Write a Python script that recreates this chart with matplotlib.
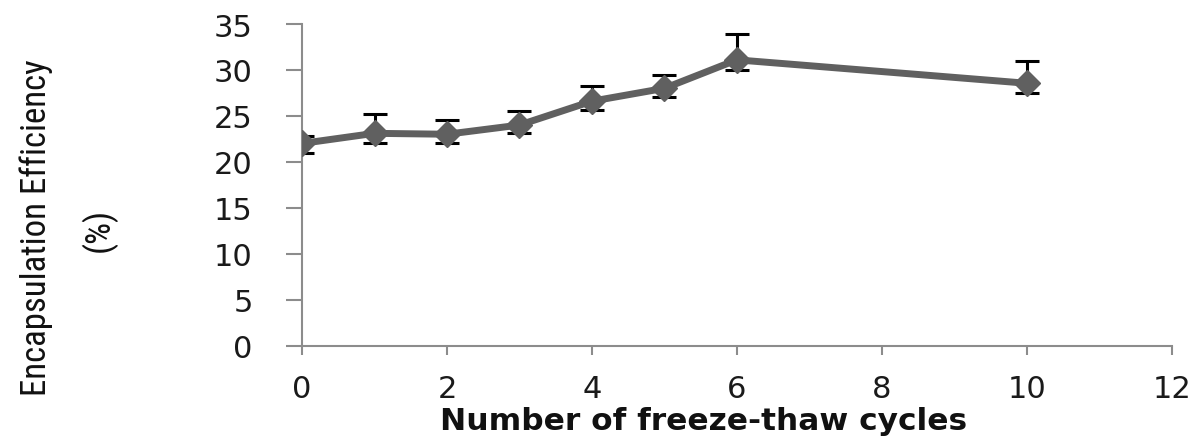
import matplotlib
matplotlib.use("Agg")
import matplotlib.pyplot as plt
from matplotlib import font_manager

# freeze-thaw cycles vs encapsulation efficiency
cycles = [0, 1, 2, 3, 4, 5, 6, 10]
efficiency = [22.0, 23.1, 23.0, 24.0, 26.6, 28.0, 31.1, 28.55]
err_upper = [0.8, 2.1, 1.5, 1.5, 1.7, 1.4, 2.85, 2.4]
err_lower = [1.0, 1.0, 0.95, 0.9, 1.0, 0.9, 1.1, 1.05]

x_ticks = [0, 2, 4, 6, 8, 10, 12]
y_ticks = [0, 5, 10, 15, 20, 25, 30, 35]

# pick a condensed face for the y label if one is around
names = {f.name for f in font_manager.fontManager.ttflist}
narrow = "DejaVu Sans"
for cand in ["Liberation Sans Narrow", "DejaVu Sans Condensed", "Roboto Condensed", "Open Sans Condensed"]:
    if cand in names:
        narrow = cand
        break

fig = plt.figure(figsize=(12, 4.39), dpi=100)
ax = fig.add_axes([0.2517, 0.2107, 0.7247, 0.7323])

ax.errorbar(cycles, efficiency, yerr=[err_lower, err_upper], fmt="none",
            ecolor="black", elinewidth=2.2, capsize=8.5, capthick=2.2, zorder=2)
ax.plot(cycles, efficiency, color="#606060", linewidth=5, marker="D",
        markersize=13, markerfacecolor="#606060", markeredgecolor="#606060",
        zorder=3, solid_joinstyle="round")

ax.set_xlim(0, 12)
ax.set_ylim(0, 35)
ax.set_xticks(x_ticks)
ax.set_yticks(y_ticks)

for side in ["top", "right"]:
    ax.spines[side].set_visible(False)
for side in ["left", "bottom"]:
    ax.spines[side].set_color("#8c8c8c")
    ax.spines[side].set_linewidth(1.5)

ax.tick_params(axis="y", direction="out", length=11.5, width=1.5, color="#8c8c8c",
               pad=24, labelsize=22, labelcolor="#1a1a1a")
ax.tick_params(axis="x", direction="out", length=6.5, width=1.5, color="#8c8c8c",
               pad=14, labelsize=22, labelcolor="#1a1a1a")

fig.text(704 / 1200, 1 - 430 / 439, "Number of freeze-thaw cycles",
         ha="center", va="baseline", fontsize=22.5, fontweight="bold",
         color="#111111")

if narrow == "DejaVu Sans":
    ylab_size = 20
else:
    ylab_size = 25
fig.text(36 / 1200, 1 - 228 / 439, "Encapsulation Efficiency", rotation=90,
         ha="center", va="center", fontsize=ylab_size, family=narrow, color="#111111")
fig.text(99 / 1200, 1 - 230 / 439, "(%)", rotation=90,
         ha="center", va="center", fontsize=ylab_size, family=narrow, color="#111111")

fig.savefig("out.png", dpi=100)
